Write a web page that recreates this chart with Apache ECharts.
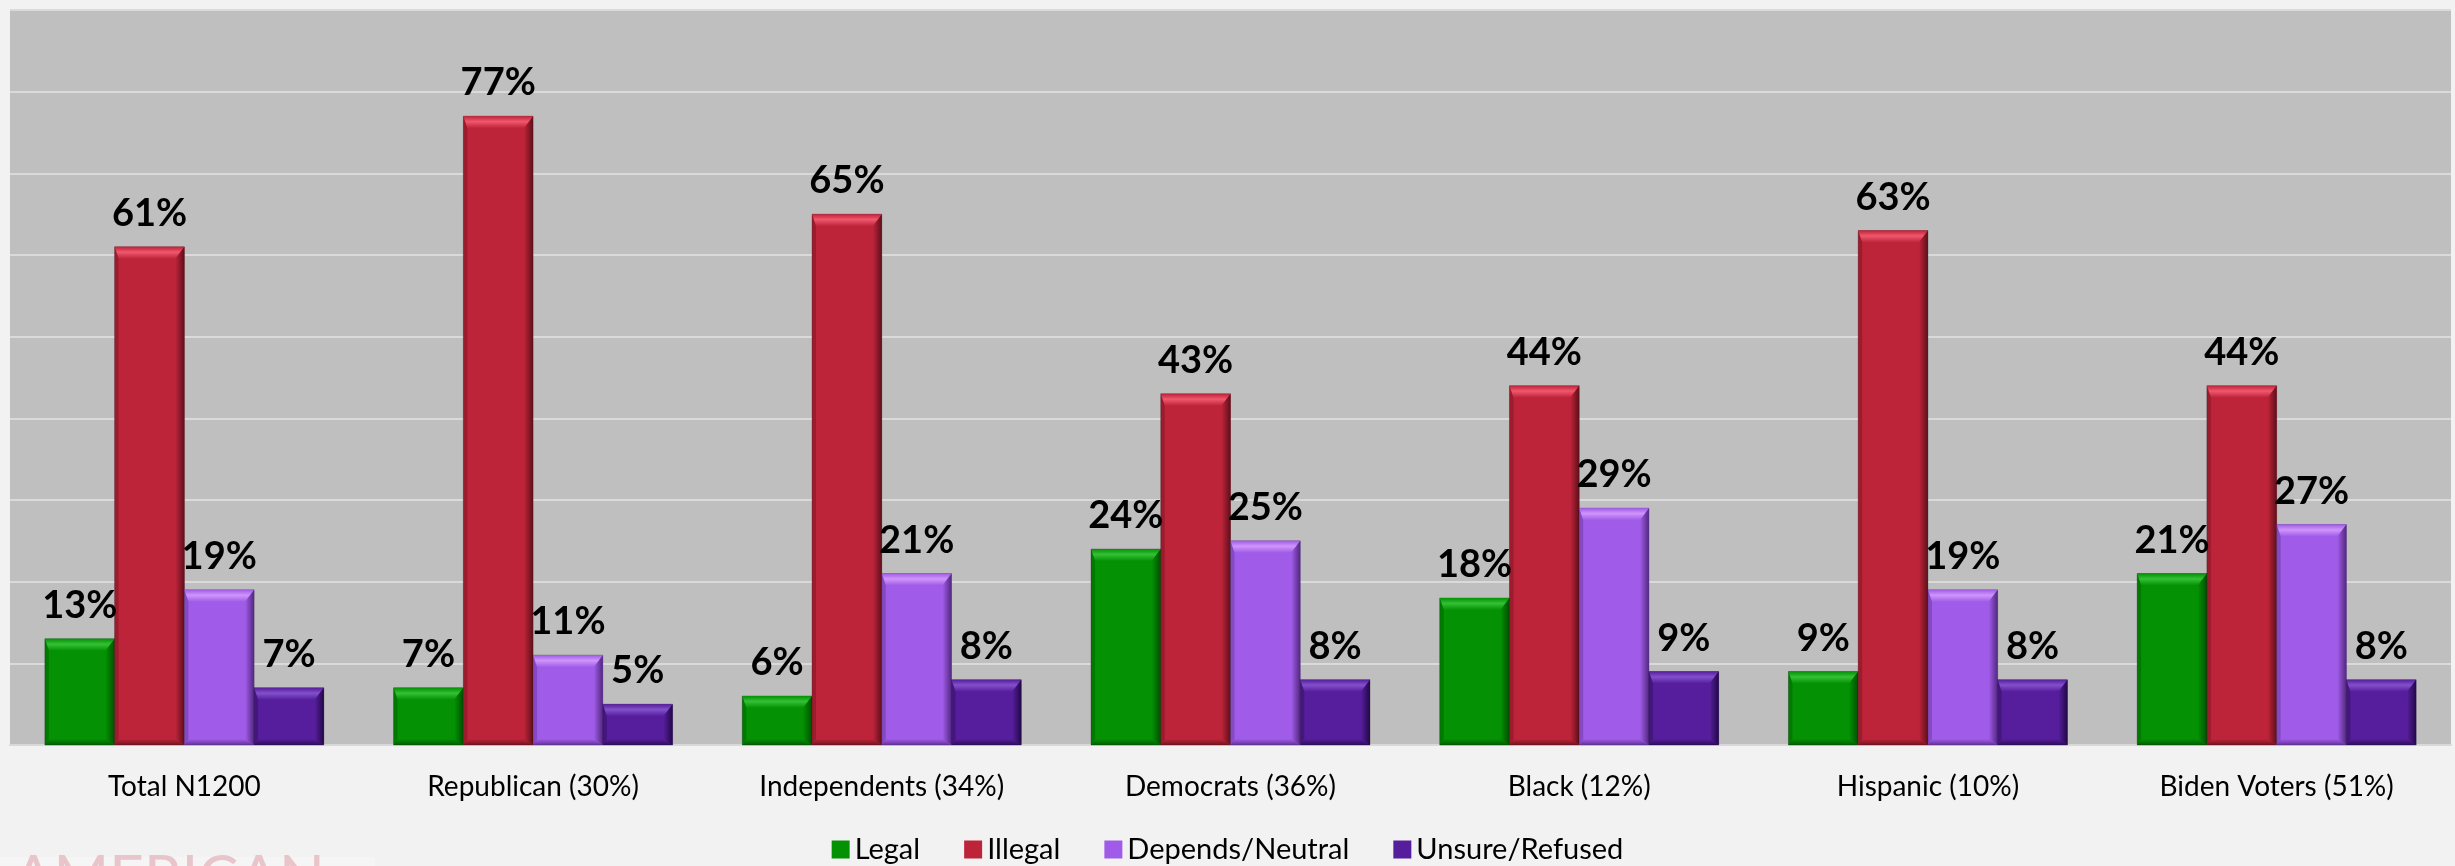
<!DOCTYPE html>
<html>
<head>
<meta charset="utf-8">
<script src="https://cdn.jsdelivr.net/npm/echarts@6/dist/echarts.min.js"></script>
<style>
  html, body { margin: 0; padding: 0; background: #F2F2F2; }
  #chart { width: 2455px; height: 866px; }
</style>
</head>
<body>
<div id="chart"></div>
<script>
const categories = ['Total N1200', 'Republican (30%)', 'Independents (34%)', 'Democrats (36%)', 'Black (12%)', 'Hispanic (10%)', 'Biden Voters (51%)'];
const seriesNames = ['Legal', 'Illegal', 'Depends/Neutral', 'Unsure/Refused'];
const legalVals = [13, 7, 6, 24, 18, 9, 21];
const illegalVals = [61, 77, 65, 43, 44, 63, 44];
const dependsVals = [19, 11, 21, 25, 29, 19, 27];
const unsureVals = [7, 5, 8, 8, 9, 8, 8];
const yMin = 0, yMax = 90, yInterval = 10;

const palette = [
  { base: '#049104', light: '#35C035', dark: '#014F01' },
  { base: '#BE2439', light: '#F0586D', dark: '#5E0F1B' },
  { base: '#A05CE8', light: '#D095FA', dark: '#52277F' },
  { base: '#561E9C', light: '#8350CC', dark: '#220848' }
];
const allVals = [legalVals, illegalVals, dependsVals, unsureVals];

function lg(x1, y1, x2, y2, stops) {
  return new echarts.graphic.LinearGradient(x1, y1, x2, y2, stops);
}

function makeRender(si) {
  const c = palette[si];
  return function (params, api) {
    const ci = api.value(0), v = api.value(1);
    const p0 = api.coord([ci, 0]);
    const p1 = api.coord([ci, v]);
    const band = api.size([1, 0])[0];
    const w = band * 0.2;
    const x0 = p0[0] - 2 * w + si * w;
    const x1 = x0 + w;
    const yb = p0[1], yt = p1[1];
    const h = yb - yt;
    const tT = Math.min(12, h / 3), tR = 9, tB = Math.min(6, h / 4), tL = 4;
    return {
      type: 'group',
      children: [
        { type: 'rect', shape: { x: x0, y: yt, width: w, height: h },
          style: { fill: c.base, stroke: 'rgba(0,0,0,0.25)', lineWidth: 1 } },
        { type: 'polygon', shape: { points: [[x0, yt], [x1, yt], [x1 - tR, yt + tT], [x0 + tL, yt + tT]] },
          style: { fill: lg(0, 0, 0, 1, [{ offset: 0, color: c.base }, { offset: 0.45, color: c.light }, { offset: 1, color: c.base }]) } },
        { type: 'polygon', shape: { points: [[x1, yt], [x1, yb], [x1 - tR, yb - tB], [x1 - tR, yt + tT]] },
          style: { fill: lg(0, 0, 1, 0, [{ offset: 0, color: c.base }, { offset: 1, color: c.dark }]) } },
        { type: 'polygon', shape: { points: [[x0, yb], [x1, yb], [x1 - tR, yb - tB], [x0 + tL, yb - tB]] },
          style: { fill: lg(0, 0, 0, 1, [{ offset: 0, color: c.base }, { offset: 1, color: c.dark }]), opacity: 0.8 } },
        { type: 'polygon', shape: { points: [[x0, yt], [x0, yb], [x0 + tL, yb - tB], [x0 + tL, yt + tT]] },
          style: { fill: c.dark, opacity: 0.35 } },
        { type: 'text', z2: 100,
          style: { x: (x0 + x1) / 2, y: yt - 14, text: v + '%', fill: '#000',
                   font: 'bold 38px Lato', align: 'center', verticalAlign: 'bottom' } }
      ]
    };
  };
}

const series = seriesNames.map(function (name, si) {
  return {
    name: name,
    type: 'custom',
    renderItem: makeRender(si),
    itemStyle: { color: palette[si].base },
    encode: { x: 0, y: 1 },
    data: allVals[si].map(function (v, i) { return [i, v]; })
  };
});

const chart = echarts.init(document.getElementById('chart'), null, { renderer: 'canvas' });
chart.setOption({
  animation: false,
  backgroundColor: '#F2F2F2',
  grid: { left: 10, right: 4, top: 10, bottom: 121, show: true, backgroundColor: '#BFBFBF', borderWidth: 0 },
  xAxis: {
    type: 'category',
    data: categories,
    axisLine: { show: true, lineStyle: { color: '#D9D9D9', width: 2 } },
    axisTick: { show: false },
    axisLabel: { margin: 28, fontFamily: 'Lato', fontSize: 28, color: '#000' }
  },
  yAxis: {
    type: 'value', min: yMin, max: yMax, interval: yInterval,
    axisLabel: { show: false }, axisLine: { show: false }, axisTick: { show: false },
    splitLine: { lineStyle: { color: '#DADADA', width: 2 } }
  },
  legend: {
    data: seriesNames.map(function (n, i) { return { name: n, icon: 'rect', itemStyle: { color: palette[i].base } }; }),
    left: 'center', top: 830, itemWidth: 18, itemHeight: 18, itemGap: 44,
    textStyle: { fontFamily: 'Lato', fontSize: 29, color: '#000' }
  },
  graphic: [
    { type: 'rect', left: 0, top: 857, shape: { width: 375, height: 9 }, style: { fill: '#F5F5F5' }, z: -1 },
    { type: 'text', left: 13, top: 849, style: { text: 'AMERICAN', font: '60px Lato', fill: '#E8C5CB' } }
  ],
  series: series
});
</script>
</body>
</html>
